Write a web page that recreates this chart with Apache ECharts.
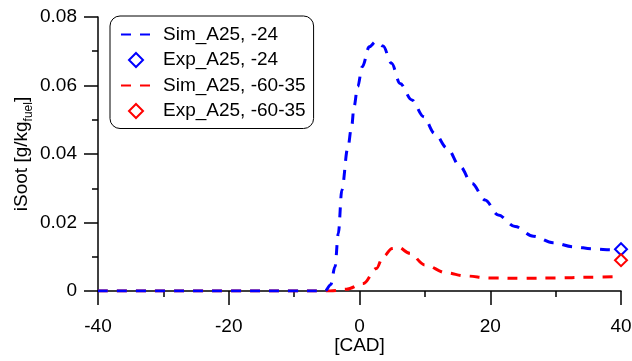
<!DOCTYPE html>
<html>
<head>
<meta charset="utf-8">
<script src="https://cdn.jsdelivr.net/npm/echarts@6/dist/echarts.min.js"></script>
<style>
  html, body { margin: 0; padding: 0; background: #fff; }
  #chart { width: 632px; height: 361px; }
</style>
</head>
<body>
<div id="chart"></div>
<script>
// Sim_A25, -24 (blue dashed)
const cadSim24 = [-40, -30, -20, -10, -5.3, -4.4, -3.75, -3.24, -2.7, -1.8, -1.2, -0.84, -0.28, 0.43, 1.5, 2.5, 3.6, 4.9, 6.2, 8.0, 9.8, 11.5, 13.4, 15.4, 17.2, 19.2, 21.2, 23.8, 26.6, 29.6, 32.7, 35.7, 38.8, 40];
const sootSim24 = [0, 0, 0, 0, 0, 0.0018, 0.0071, 0.0168, 0.0295, 0.0417, 0.048, 0.0538, 0.0597, 0.0655, 0.0713, 0.0728, 0.0715, 0.0665, 0.0606, 0.0558, 0.0509, 0.046, 0.0417, 0.0363, 0.0314, 0.0266, 0.0222, 0.0188, 0.016, 0.0141, 0.0129, 0.0123, 0.012, 0.0119];

// Sim_A25, -60-35 (red dashed)
const cadSim6035 = [-40, -20, -4.5, -2, 0.6, 2.6, 3.6, 5.0, 5.9, 7.7, 10, 13.3, 16.1, 20, 25, 30, 35, 40];
const sootSim6035 = [0, 0, 0, 0.0005, 0.0022, 0.0066, 0.01, 0.0124, 0.0128, 0.011, 0.0076, 0.0053, 0.0044, 0.0038, 0.0037, 0.0038, 0.004, 0.0042];

// experimental points
const cadExp = [40];
const sootExp24 = [0.0122];
const sootExp6035 = [0.009];

const seriesNames = ["Sim_A25, -24", "Exp_A25, -24", "Sim_A25, -60-35", "Exp_A25, -60-35"];

const zip = (xs, ys) => xs.map((x, i) => [x, ys[i]]);

const font = "'Liberation Sans', Arial, sans-serif";
const fontSize = 19;
const diamondIcon = "path://M5,0 L10,5 L5,10 L0,5 Z";
const chart = echarts.init(document.getElementById("chart"), null, { renderer: "canvas" });

chart.setOption({
  animation: false,
  textStyle: { fontFamily: font },
  grid: { left: 98, right: 11, top: 17, bottom: 70, outerBoundsMode: "none", containLabel: false },
  legend: {
    orient: "vertical",
    left: 110,
    top: 16,
    padding: [9, 8, 8, 10],
    itemGap: 6.5,
    itemWidth: 30,
    itemHeight: 14,
    backgroundColor: "#fff",
    borderColor: "#000",
    borderWidth: 1,
    borderRadius: 10,
    textStyle: { fontSize: fontSize, color: "#000", fontFamily: font, padding: [0, 0, 0, 7] },
    data: [
      { name: seriesNames[0], itemStyle: { opacity: 0 } },
      { name: seriesNames[1], icon: diamondIcon },
      { name: seriesNames[2], itemStyle: { opacity: 0 } },
      { name: seriesNames[3], icon: diamondIcon }
    ]
  },
  xAxis: {
    type: "value",
    min: -40,
    max: 40,
    interval: 20,
    name: "[CAD]",
    nameLocation: "middle",
    nameGap: 45,
    nameMoveOverlap: false,
    nameTextStyle: { fontSize: fontSize, color: "#000" },
    axisLine: { onZero: false, lineStyle: { color: "#000", width: 1.5 } },
    axisTick: { length: 14, lineStyle: { color: "#000", width: 1.5 } },
    minorTick: { show: true, splitNumber: 2, length: 6, lineStyle: { color: "#000", width: 1.5 } },
    axisLabel: { fontSize: fontSize, color: "#000", margin: 26 },
    splitLine: { show: false }
  },
  yAxis: {
    type: "value",
    min: 0,
    max: 0.08,
    interval: 0.02,
    name: "{a|iSoot [g/kg}{s|fuel}{a|]}",
    nameLocation: "middle",
    nameGap: 67,
    nameMoveOverlap: false,
    nameTextStyle: {
      rich: {
        a: { fontSize: fontSize, color: "#000", fontFamily: font },
        s: { fontSize: 12, color: "#000", fontFamily: font, verticalAlign: "bottom", padding: [0, 0, -4, 0] }
      }
    },
    axisLine: { show: true, onZero: false, lineStyle: { color: "#000", width: 1.5 } },
    axisTick: { show: true, length: 14, lineStyle: { color: "#000", width: 1.5 } },
    minorTick: { show: true, splitNumber: 2, length: 6, lineStyle: { color: "#000", width: 1.5 } },
    axisLabel: {
      fontSize: fontSize,
      color: "#000",
      margin: 21,
      formatter: (v) => (v === 0 ? "0" : v.toFixed(2))
    },
    splitLine: { show: false }
  },
  series: [
    {
      name: seriesNames[0],
      type: "line",
      data: zip(cadSim24, sootSim24),
      symbol: "none",
      smooth: 0.35,
      smoothMonotone: "x",
      z: 4,
      lineStyle: { color: "#0000ff", width: 3, type: [10, 9] },
      itemStyle: { color: "#0000ff" }
    },
    {
      name: seriesNames[1],
      type: "scatter",
      data: zip(cadExp, sootExp24),
      symbol: "diamond",
      symbolSize: 12,
      z: 5,
      itemStyle: { color: "#fff", borderColor: "#0000ff", borderWidth: 2, opacity: 1 }
    },
    {
      name: seriesNames[2],
      type: "line",
      data: zip(cadSim6035, sootSim6035),
      symbol: "none",
      smooth: 0.35,
      smoothMonotone: "x",
      z: 3,
      lineStyle: { color: "#ff0000", width: 3, type: [10, 9] },
      itemStyle: { color: "#ff0000" }
    },
    {
      name: seriesNames[3],
      type: "scatter",
      data: zip(cadExp, sootExp6035),
      symbol: "diamond",
      symbolSize: 12,
      z: 5,
      itemStyle: { color: "#fff", borderColor: "#ff0000", borderWidth: 2, opacity: 1 }
    }
  ]
});
</script>
</body>
</html>
